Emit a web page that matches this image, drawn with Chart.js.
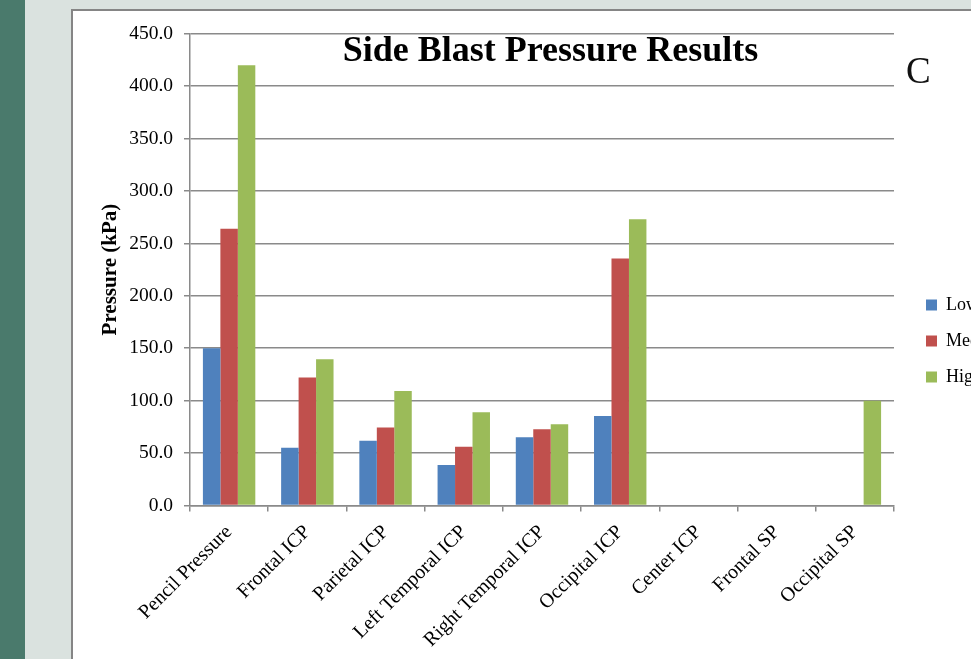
<!DOCTYPE html>
<html>
<head>
<meta charset="utf-8">
<script src="https://cdn.jsdelivr.net/npm/chart.js@4.4.1/dist/chart.umd.min.js"></script>
<style>
  html, body { margin: 0; padding: 0; }
  body { width: 971px; height: 659px; overflow: hidden; position: relative; background: #dae2df; }
  #strip { position: absolute; left: 0; top: 0; width: 25px; height: 659px; background: #4a7a6c; }
  #frame { position: absolute; left: 71px; top: 9px; width: 1000px; height: 700px;
           border: 2px solid #858585; background: #ffffff; }
  #chart { position: absolute; left: 0; top: 0; }
  #panel { position: absolute; left: 906px; top: 52px; color: #111;
           font: 37px/1 'Liberation Serif', 'Times New Roman', serif; }
</style>
</head>
<body>
<div id="strip"></div>
<div id="frame"><canvas id="chart" width="940" height="660"></canvas></div>
<div id="panel">C</div>
<script>
// Measurement locations along the x axis
const categories = [
  'Pencil Pressure', 'Frontal ICP', 'Parietal ICP', 'Left Temporal ICP',
  'Right Temporal ICP', 'Occipital ICP', 'Center ICP', 'Frontal SP', 'Occipital SP'
];

// Peak pressure (kPa) per blast level; null where nothing was recorded
const lowValues    = [150, 55, 61.7, 38.6, 65, 85.3, null, null, null];
const mediumValues = [264, 122, 74.5, 56, 72.7, 235.5, null, null, null];
const highValues   = [420, 139.5, 109.3, 89, 77.5, 273, null, null, 100];

const seriesNames  = ['Low', 'Medium', 'High'];
const seriesColors = ['#4f81bd', '#c0504d', '#9bbb59'];

// Value axis range and tick spacing
const yMin = 0;
const yMax = 450;
const yStep = 50;

const axisGray = '#8a8a8a';
Chart.defaults.font.family = "'Liberation Serif', 'Times New Roman', serif";
Chart.defaults.color = '#000';

const seriesValues = [lowValues, mediumValues, highValues];

new Chart(document.getElementById('chart'), {
  type: 'bar',
  data: {
    labels: categories,
    datasets: seriesNames.map((name, i) => ({
      label: name,
      data: seriesValues[i],
      backgroundColor: seriesColors[i],
      borderWidth: 0,
      categoryPercentage: 0.67,
      barPercentage: 1.0
    }))
  },
  options: {
    responsive: false,
    animation: false,
    devicePixelRatio: 1,
    layout: { padding: { left: 15, right: 0, top: 0, bottom: 0 } },
    plugins: {
      title: {
        display: true,
        text: 'Side Blast Pressure Results',
        color: '#000',
        font: { size: 36, weight: 'bold', lineHeight: 1.2 },
        padding: { top: 18, bottom: -39.2 }
      },
      legend: {
        position: 'right',
        maxWidth: 105,
        labels: {
          boxWidth: 11,
          boxHeight: 11,
          padding: 18,
          color: '#000',
          font: { size: 18 }
        }
      },
      tooltip: { enabled: false }
    },
    scales: {
      x: {
        grid: {
          display: true, drawOnChartArea: false, drawTicks: true,
          tickLength: 6, color: axisGray, lineWidth: 1.5, offset: true
        },
        border: { display: true, color: axisGray, width: 1.5 },
        ticks: {
          autoSkip: false, maxRotation: 45, minRotation: 45,
          color: '#000', font: { size: 20 }, padding: 9
        },
        afterFit(scale) { scale.height = 165.5; }
      },
      y: {
        min: yMin,
        max: yMax,
        ticks: {
          stepSize: yStep,
          color: '#000',
          font: { size: 19.5 },
          padding: 11,
          callback: (v) => Number(v).toFixed(1)
        },
        grid: { color: axisGray, lineWidth: 1.5, tickLength: 6 },
        border: { color: axisGray, width: 1.5 },
        title: {
          display: true,
          text: 'Pressure (kPa)',
          color: '#000',
          font: { size: 21, weight: 'bold', lineHeight: 1.2 },
          padding: { top: 9.9, bottom: 0 }
        },
        afterFit(scale) { scale.width = 102; }
      },
      // empty right-hand axis that keeps the legend clear of the plot
      gap: {
        type: 'linear',
        position: 'right',
        display: true,
        grid: { display: false },
        border: { display: false },
        ticks: { display: false },
        afterFit(scale) { scale.width = 14; }
      }
    }
  }
});
</script>
</body>
</html>
